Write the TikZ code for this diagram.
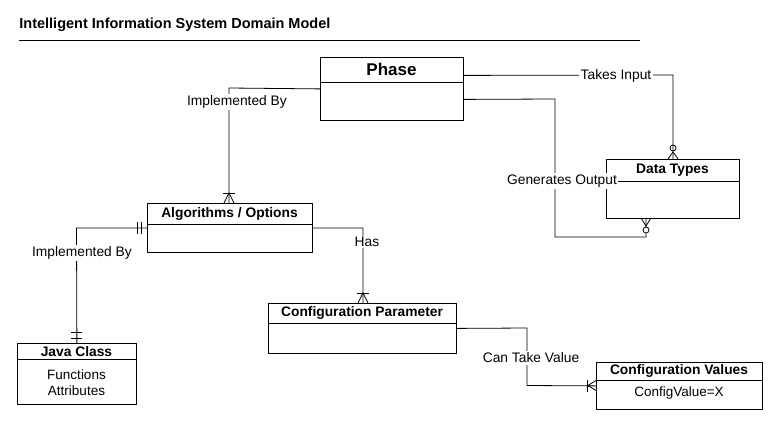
\documentclass[tikz,border=0pt]{standalone}
\usepackage{fontspec}
\setmainfont{Liberation Sans}
\begin{document}
\begin{tikzpicture}[x=1pt,y=-1pt, line width=0.8pt,
  entity/.style={draw, anchor=north west, inner sep=0pt},
  ttl/.style={font=\bfseries\fontsize{13.8}{16}\selectfont, inner sep=1pt},
  lbl/.style={font=\fontsize{13.8}{16}\selectfont, fill=white, inner sep=1.5pt},
  body/.style={font=\fontsize{13.5}{16}\selectfont, align=center, inner sep=0pt},
  conn/.style={draw, line width=0.8pt},
  sym/.style={draw, line width=0.8pt}]
\fill[white] (0,0) rectangle (783,431);
\useasboundingbox (0,0) rectangle (783,431);

% title
\node[anchor=base west, font=\bfseries\fontsize{14.5}{18}\selectfont, inner sep=0pt] (title) at (19,28) {Intelligent Information System Domain Model};
\draw[line width=0.7pt] (19,40) coordinate (ruleA) -- (640,40) coordinate (ruleB);

% entities
\node[entity, minimum width=143pt, minimum height=63pt] (phase) at (320,57) {};
\draw ([yshift=-25pt]phase.north west) -- ([yshift=-25pt]phase.north east);
\node[font=\bfseries\fontsize{17}{20}\selectfont, inner sep=0pt] (phaseT) at (391.5,69.5) {Phase};

\node[entity, minimum width=133pt, minimum height=59pt] (data) at (606,159) {};
\draw ([yshift=-22pt]data.north west) -- ([yshift=-22pt]data.north east);
\node[ttl] (dataT) at (672.5,170.5) {Data Types};

\node[entity, minimum width=165pt, minimum height=49pt] (algo) at (147,203) {};
\draw ([yshift=-21pt]algo.north west) -- ([yshift=-21pt]algo.north east);
\node[ttl] (algoT) at (229.5,214) {Algorithms / Options};

\node[entity, minimum width=119pt, minimum height=61pt] (java) at (17,343) {};
\draw ([yshift=-16pt]java.north west) -- ([yshift=-16pt]java.north east);
\node[ttl] (javaT) at (76.5,352) {Java Class};
\node[body] (javaB) at (76.5,383) {Functions\\Attributes};

\node[entity, minimum width=188pt, minimum height=50pt] (param) at (268,303) {};
\draw ([yshift=-20pt]param.north west) -- ([yshift=-20pt]param.north east);
\node[ttl] (paramT) at (362,313) {Configuration Parameter};

\node[entity, minimum width=166pt, minimum height=47pt] (vals) at (596,362) {};
\draw ([yshift=-18pt]vals.north west) -- ([yshift=-18pt]vals.north east);
\node[ttl] (valsT) at (679,371) {Configuration Values};
\node[body] (valsB) at (679,393) {ConfigValue=X};

% connectors
\coordinate (c1) at (229,88);
\draw[conn] (phase.west) -- (c1) -- (algo.north -| c1);
\node[lbl] (l1) at (237,102) {Implemented By};

\coordinate (c2) at (673,75);
\draw[conn] ([yshift=13.5pt]phase.east) -- (c2) -- (data.north -| c2);
\node[lbl] (l2) at (616,76) {Takes Input};

\coordinate (c3) at (555,99);
\coordinate (c4) at (555,237);
\coordinate (c5) at (646,237);
\draw[conn] ([yshift=-10.5pt]phase.east) -- (c3) -- (c4) -- (c5) -- (data.south -| c5);

\coordinate (c6) at (363,228);
\draw[conn] (algo.east) -- (c6) -- (param.north -| c6);
\node[lbl] (l4) at (367,242) {Has};

\coordinate (c7) at (76.5,228);
\draw[conn] (algo.west) -- (c7) -- (java.north);
\node[lbl] (l5) at (82,253) {Implemented By};

\coordinate (c8) at (527,328);
\coordinate (c9) at (527,385.5);
\draw[conn] (param.east) -- (c8) -- (c9) -- (vals.west);
\node[lbl] (l6) at (531,358) {Can Take Value};

% symbols
% one-or-many at Algorithms top
\draw[sym] (223,193) -- (235,193);
\draw[sym] (224,203) -- (229,193) -- (234,203);
% one-or-many at Configuration Parameter top
\draw[sym] (357,293) -- (369,293);
\draw[sym] (358,303) -- (363,293) -- (368,303);
% one-or-many at Configuration Values left
\draw[sym] (587,380) -- (587,392);
\draw[sym] (596,380.5) -- (588,385.5) -- (596,390.5);
% zero-or-many at Data Types top
\draw[sym] (673,148) circle (3);
\draw[sym] (668,159) -- (673,152) -- (678,159);
% zero-or-many at Data Types bottom
\draw[sym, fill=white] (646,230) circle (3);
\draw[sym] (641,218) -- (646,226) -- (651,218);
% one-and-only-one at Algorithms left
\draw[sym] (137,222) -- (137,234);
\draw[sym] (141,222) -- (141,234);
% one-and-only-one at Java Class top
\draw[sym] (71,332) -- (82,332);
\draw[sym] (71,338) -- (82,338);

\node[lbl] (l3) at (562,181) {Generates Output};
\end{tikzpicture}
\end{document}
